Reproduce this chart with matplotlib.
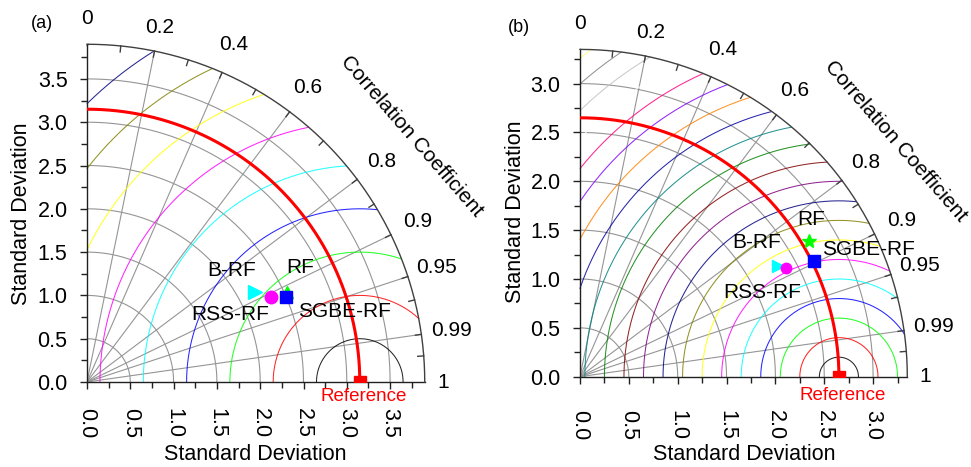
"""Taylor diagrams for the four RF variants, panels (a) and (b)."""
import numpy as np
import matplotlib
matplotlib.use("Agg")
import matplotlib.pyplot as plt  # noqa: E402
from matplotlib.ticker import MultipleLocator, FormatStrFormatter  # noqa: E402

plt.rcParams["font.family"] = ["Liberation Sans", "DejaVu Sans"]

models = ["RF", "B-RF", "RSS-RF", "SGBE-RF"]

# panel (a)
ref_std_a = 3.15
std_a = [2.53, 2.20, 2.34, 2.50]
corr_a = [0.911, 0.881, 0.908, 0.919]

# panel (b)
ref_std_b = 2.65
std_b = [2.73, 2.32, 2.39, 2.67]
corr_b = [0.860, 0.872, 0.884, 0.896]

corr_labels = [0, 0.2, 0.4, 0.6, 0.8, 0.9, 0.95, 0.99, 1]
corr_grid = [0.2, 0.4, 0.6, 0.8, 0.9, 0.95, 0.99]
corr_minor = [0.1, 0.3, 0.5, 0.7, 0.85, 0.97, 0.997]

# Origin default colour list, used in order for the centred-RMS contours
origin_colors = ["#000000", "#FF0000", "#00FF00", "#0000FF", "#00FFFF", "#FF00FF",
                 "#FFFF00", "#808000", "#000080", "#800080", "#800000", "#008000",
                 "#008080", "#0000A0", "#FF8000", "#8000FF", "#FF0080", "#FFFFFF",
                 "#C0C0C0", "#808080", "#FFFF80"]

W, H = 971, 467
GRID = "#959595"


def taylor(fig, origin_px, px_per_unit, rmax, ref, rms_step, std_max,
           stds, corrs, styles, label_pos, ref_label_pos, xpad):
    w = rmax * px_per_unit
    ax = fig.add_axes([origin_px[0] / W, 1 - origin_px[1] / H, w / W, w / H])
    ax.set_xlim(0, rmax)
    ax.set_ylim(0, rmax)
    ax.patch.set_visible(False)
    for s in ["top", "right"]:
        ax.spines[s].set_visible(False)
    for s in ["left", "bottom"]:
        ax.spines[s].set_linewidth(1.0)
        ax.spines[s].set_color("#202020")

    t = np.linspace(0, np.pi / 2, 400)
    # std arcs
    for r in np.arange(0.5, std_max + 1e-6, 0.5):
        ax.plot(r * np.cos(t), r * np.sin(t), color=GRID, lw=0.8, zorder=1)
    # correlation rays
    for c in corr_grid:
        th = np.arccos(c)
        ax.plot([0, rmax * np.cos(th)], [0, rmax * np.sin(th)], color=GRID, lw=0.8, zorder=1)

    # centred RMS contours around the reference point
    tt = np.linspace(0, np.pi, 3000)
    for i, col in enumerate(origin_colors):
        rr = rms_step * (i + 1)
        x = ref + rr * np.cos(tt)
        y = rr * np.sin(tt)
        m = (x >= 0) & (x ** 2 + y ** 2 <= rmax ** 2)
        if m.sum() < 2:
            continue
        ax.plot(x[m], y[m], color=col, lw=0.75, alpha=0.85, zorder=2, clip_on=False)

    # outer arc with inward ticks
    ax.plot(rmax * np.cos(t), rmax * np.sin(t), color="#404040", lw=1.0, clip_on=False, zorder=3)
    tl = 6 / px_per_unit
    for c in corr_grid + corr_minor:
        th = np.arccos(c)
        ax.plot([rmax * np.cos(th), (rmax - tl) * np.cos(th)],
                [rmax * np.sin(th), (rmax - tl) * np.sin(th)],
                color="#404040", lw=1.0, clip_on=False, zorder=3)

    # correlation labels
    for c in corr_labels:
        th = np.arccos(c)
        off = {0: 26, 0.2: 24, 1: 18}.get(c, 30) / px_per_unit
        ax.text((rmax + off) * np.cos(th), (rmax + off) * np.sin(th), str(c),
                ha="center", va="center", fontsize=15, clip_on=False)

    # reference std arc and point
    ax.plot(ref * np.cos(t), ref * np.sin(t), color="#ff0000", lw=2.2, zorder=4)
    ax.plot(ref, 0, "s", color="#ff0000", ms=8, zorder=6, clip_on=True)
    ax.text(ref_label_pos[0], ref_label_pos[1], "Reference", color="#ff0000",
            fontsize=13.5, ha="center", va="center", clip_on=False)

    # models
    for name, s, c in zip(models, stds, corrs):
        th = np.arccos(c)
        mk, col, ms = styles[name]
        ax.plot(s * np.cos(th), s * np.sin(th), mk, color=col, ms=ms, zorder=7,
                clip_on=False)
        lx, ly = label_pos[name]
        ax.text(lx, ly, name, fontsize=15, ha="center", va="center", zorder=8)

    ax.xaxis.set_major_locator(MultipleLocator(0.5))
    ax.xaxis.set_minor_locator(MultipleLocator(0.25))
    ax.yaxis.set_major_locator(MultipleLocator(0.5))
    ax.yaxis.set_minor_locator(MultipleLocator(0.25))
    ax.xaxis.set_major_formatter(FormatStrFormatter("%.1f"))
    ax.yaxis.set_major_formatter(FormatStrFormatter("%.1f"))
    ax.tick_params(which="major", direction="out", length=5, width=1, labelsize=15.5,
                   color="#202020")
    ax.tick_params(which="minor", direction="out", length=4, width=1, color="#202020")
    ax.tick_params(axis="x", which="major", labelrotation=-90, pad=xpad)
    ax.tick_params(axis="y", which="major", pad=9)
    return ax


fig = plt.figure(figsize=(W / 100, H / 100), dpi=100)

taylor(fig, (87, 382), 86.6, 3.9, ref_std_a, 0.5, 3.5, std_a, corr_a,
       {"RF": ("^", "#00ff00", 8), "B-RF": (">", "#00ffff", 9.5),
        "RSS-RF": ("o", "#ff00ff", 9), "SGBE-RF": ("s", "#0000ff", 8.5)},
       {"RF": (2.46, 1.32), "B-RF": (1.67, 1.29), "RSS-RF": (1.65, 0.785),
        "SGBE-RF": (2.97, 0.81)},
       (3.2, -0.17), 14)

taylor(fig, (580, 376.7), 97.7, 3.35, ref_std_b, 0.2, 3.0, std_b, corr_b,
       {"RF": ("*", "#00ff00", 10.5), "B-RF": (">", "#00ffff", 8.5),
        "RSS-RF": ("o", "#ff00ff", 7.5), "SGBE-RF": ("s", "#0000ff", 8)},
       {"RF": (2.37, 1.61), "B-RF": (1.81, 1.37), "RSS-RF": (1.86, 0.857),
        "SGBE-RF": (2.95, 1.30)},
       (2.69, -0.19), 19)

# panel letters, axis titles
fig.text(42 / W, 1 - 23 / H, "(a)", fontsize=13, ha="center", va="center")
fig.text(519 / W, 1 - 28 / H, "(b)", fontsize=13, ha="center", va="center")
for x, y in [(412, 136), (896, 141)]:
    fig.text(x / W, 1 - y / H, "Correlation Coefficient", fontsize=15, rotation=-49,
             ha="center", va="center", rotation_mode="anchor")
for x in (255, 744):
    fig.text(x / W, 1 - 455 / H, "Standard Deviation", fontsize=15.5, ha="center", va="center")
for x, y in [(22, 214), (515, 212)]:
    fig.text(x / W, 1 - y / H, "Standard Deviation", fontsize=15.5, rotation=90,
             ha="center", va="center")

fig.savefig("out.png", dpi=100, facecolor="white")
